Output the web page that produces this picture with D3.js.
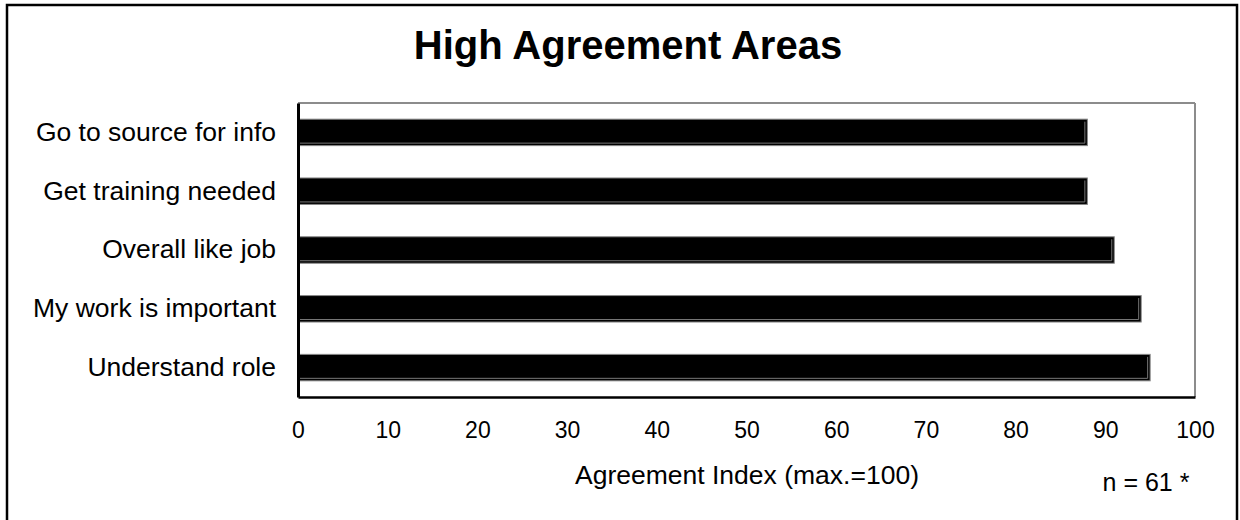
<!DOCTYPE html>
<html>
<head>
<meta charset="utf-8">
<script src="https://cdn.jsdelivr.net/npm/d3@7"></script>
<style>
  html, body { margin: 0; padding: 0; background: #fff; }
  svg { display: block; font-family: "Liberation Sans", Arial, sans-serif; }
</style>
</head>
<body>
<svg id="chart" width="1240" height="520"></svg>
<script>
// Survey items (top to bottom) and their agreement index
const categories = [
  "Go to source for info",
  "Get training needed",
  "Overall like job",
  "My work is important",
  "Understand role"
];
const values = [88, 88, 91, 94, 95];
const xTicks = [0, 10, 20, 30, 40, 50, 60, 70, 80, 90, 100];
const titleText = "High Agreement Areas";
const xAxisTitle = "Agreement Index (max.=100)";
const sampleNote = "n = 61 *";

const svg = d3.select("#chart");

// outer frame (bottom edge runs past the visible page)
svg.append("rect")
  .attr("x", 7).attr("y", 5)
  .attr("width", 1230).attr("height", 530)
  .attr("fill", "none").attr("stroke", "#000").attr("stroke-width", 2.5);

svg.append("text")
  .attr("x", 628).attr("y", 59)
  .attr("text-anchor", "middle")
  .attr("font-size", 40).attr("font-weight", "bold")
  .text(titleText);

const plot = { left: 298, right: 1195, top: 103, bottom: 397 };

const x = d3.scaleLinear().domain([0, 100]).range([plot.left, plot.right]);
const y = d3.scaleBand().domain(categories)
  .range([plot.top, plot.bottom])
  .paddingInner(0.55).paddingOuter(0.275);

// plot frame: grey top/right, black axes left/bottom
svg.append("line")
  .attr("x1", plot.left).attr("x2", plot.right)
  .attr("y1", plot.top).attr("y2", plot.top)
  .attr("stroke", "#8c8c8c").attr("stroke-width", 2);
svg.append("line")
  .attr("x1", plot.right).attr("x2", plot.right)
  .attr("y1", plot.top).attr("y2", plot.bottom)
  .attr("stroke", "#8c8c8c").attr("stroke-width", 2);

// bars
const bars = svg.append("g");
bars.selectAll("rect")
  .data(values)
  .join("rect")
  .attr("x", x(0))
  .attr("y", (d, i) => y(categories[i]))
  .attr("width", d => x(d) - x(0))
  .attr("height", y.bandwidth())
  .attr("fill", "#000")
  .attr("stroke", "#888").attr("stroke-width", 1);

// thin inner highlight along the bottom and right of each bar
bars.selectAll("path.hl")
  .data(values)
  .join("path")
  .attr("class", "hl")
  .attr("fill", "none").attr("stroke", "#777").attr("stroke-width", 1)
  .attr("d", (d, i) => {
    const y0 = y(categories[i]), y1 = y0 + y.bandwidth();
    const xr = x(d) - 2.5;
    return `M${x(0)},${y1 - 2.5}H${xr}V${y0 + 2.5}`;
  });

// y axis: labels only, black spine
const yAxis = d3.axisLeft(y).tickSize(0).tickPadding(22);
const gy = svg.append("g").attr("transform", `translate(${plot.left},0)`).call(yAxis);
gy.select(".domain").attr("stroke", "#000").attr("stroke-width", 3);
gy.selectAll("text")
  .attr("font-size", 26.5).attr("fill", "#000")
  .attr("font-family", "Liberation Sans, Arial, sans-serif");

// x axis: labels only, black spine
const xAxis = d3.axisBottom(x).tickValues(xTicks).tickSize(0).tickPadding(25);
const gx = svg.append("g").attr("transform", `translate(0,${plot.bottom})`).call(xAxis);
gx.select(".domain").attr("stroke", "#000").attr("stroke-width", 2.5);
gx.selectAll("text")
  .attr("font-size", 23).attr("fill", "#000")
  .attr("font-family", "Liberation Sans, Arial, sans-serif");

svg.append("text")
  .attr("x", 747).attr("y", 484)
  .attr("text-anchor", "middle")
  .attr("font-size", 26.5)
  .text(xAxisTitle);

svg.append("text")
  .attr("x", 1146).attr("y", 491)
  .attr("text-anchor", "middle")
  .attr("font-size", 25)
  .text(sampleNote);
</script>
</body>
</html>
